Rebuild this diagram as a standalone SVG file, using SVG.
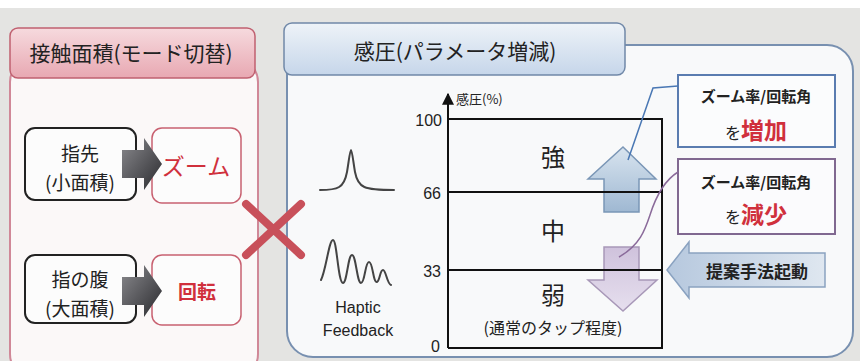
<svg xmlns="http://www.w3.org/2000/svg" width="860" height="361" viewBox="0 0 860 361">
<defs>
<style>
.jp{font-family:"Noto Sans CJK JP","Noto Sans CJK SC",sans-serif;}
.en{font-family:"Liberation Sans",Arial,sans-serif;}
.dark{fill:#222;}
.red{fill:#d0303c;}
.node{fill:#fcfcfc;stroke:#222;stroke-width:2;}
.rbox{fill:#fcfcfc;stroke:#c86070;stroke-width:1.5;}
.grid{stroke:#111;stroke-width:2;fill:none;}
.wave{fill:none;stroke:#444;stroke-width:2;stroke-linecap:round;stroke-linejoin:round;}
</style>
<linearGradient id="gPink" x1="0" y1="0" x2="0" y2="1"><stop offset="0" stop-color="#f6dade"/><stop offset="1" stop-color="#e8a8b2"/></linearGradient>
<linearGradient id="gBlue" x1="0" y1="0" x2="0" y2="1"><stop offset="0" stop-color="#eef3f8"/><stop offset="1" stop-color="#c6d6ea"/></linearGradient>
<linearGradient id="gDark" x1="0" y1="0" x2="1" y2="1"><stop offset="0" stop-color="#8a8a8e"/><stop offset="1" stop-color="#2a2a2e"/></linearGradient>
<linearGradient id="gUp" x1="0" y1="0" x2="0" y2="1"><stop offset="0" stop-color="#d8e4ef"/><stop offset="1" stop-color="#9fb8d2"/></linearGradient>
<linearGradient id="gDown" x1="0" y1="0" x2="0" y2="1"><stop offset="0" stop-color="#cfc2dc"/><stop offset="1" stop-color="#e6dfee"/></linearGradient>
<linearGradient id="gLeft" x1="0" y1="0" x2="1" y2="0"><stop offset="0" stop-color="#b6c8de"/><stop offset="1" stop-color="#dfe7f0"/></linearGradient>
<marker id="ah" viewBox="0 0 10 10" refX="9" refY="5" markerWidth="6" markerHeight="6" orient="auto"><path d="M0,0 L10,5 L0,10 Z" fill="#111"/></marker>
</defs>
<rect x="0" y="0" width="860" height="361" fill="#ffffff"/>
<rect x="0" y="8" width="860" height="353" fill="#e4e4e2"/>

<g id="panel-contact">
<rect x="10" y="58" width="248" height="320" rx="24" fill="#fbf8f8" stroke="#d08898" stroke-width="2"/>
<rect x="10" y="28" width="245" height="50" rx="8" fill="url(#gPink)" stroke="#c06070" stroke-width="1.5"/>
<text class="jp dark" x="131" y="61" font-size="21" text-anchor="middle">接触面積(モード切替)</text>
</g>

<g id="panel-pressure">
<rect x="287" y="45" width="566" height="312" rx="26" fill="#f8f9fa" stroke="#7890b0" stroke-width="2"/>
<rect x="284" y="23" width="341" height="52" rx="8" fill="url(#gBlue)" stroke="#7088a8" stroke-width="1.5"/>
<text class="jp dark" x="455" y="59" font-size="21" text-anchor="middle">感圧(パラメータ増減)</text>
</g>

<g id="node-fingertip">
<rect class="node" x="25" y="128" width="111" height="72" rx="10"/>
<text class="jp dark" x="80" y="161" font-size="19" text-anchor="middle">指先</text>
<text class="jp dark" x="80" y="190" font-size="19" text-anchor="middle">(小面積)</text>
</g>
<g id="node-zoom">
<rect class="rbox" x="152" y="128" width="89" height="75" rx="10"/>
<text class="jp red" x="196" y="175" font-size="23" text-anchor="middle">ズーム</text>
</g>
<g id="node-pad">
<rect class="node" x="25" y="255" width="111" height="68" rx="10"/>
<text class="jp dark" x="80" y="287" font-size="19" text-anchor="middle">指の腹</text>
<text class="jp dark" x="80" y="316" font-size="19" text-anchor="middle">(大面積)</text>
</g>
<g id="node-rotate">
<rect class="rbox" x="152" y="255" width="89" height="70" rx="10"/>
<text class="jp red" x="197" y="299" font-size="19" font-weight="bold" text-anchor="middle">回転</text>
</g>

<g id="node-cross">
<path d="M246,204 L301,255 M301,204 L246,255" stroke="#c8505a" stroke-width="8" stroke-linecap="round"/>
</g>

<g id="node-haptic">
<path class="wave" d="M320,190 C338,190 344,188 347,172 C349,160 350,150 351,150 C352,150 353,160 355,172 C358,188 364,190 394,190"/>
<path class="wave" d="M321,280 C326,270 329,240 333,240 C337,240 338,283 343,283 C347,283 348,255 352,255 C356,255 357,283 361,283 C365,283 365,262 369,262 C373,262 373,283 377,282 C380,280 380,270 383,270 C386,270 387,284 391,285"/>
<text class="en dark" x="358" y="313" font-size="16" text-anchor="middle">Haptic</text>
<text class="en dark" x="358" y="336" font-size="16" text-anchor="middle">Feedback</text>
</g>

<g id="node-up">
<path d="M623,147 L656,179 L639,179 L639,212 L604,212 L604,179 L588,179 Z" fill="url(#gUp)" stroke="#7a96b6" stroke-width="1.5"/>
</g>
<g id="node-down">
<path d="M604,247 L639,247 L639,280 L657,280 L623,311 L588,280 L604,280 Z" fill="url(#gDown)" stroke="#a898b8" stroke-width="1.5"/>
</g>

<g id="node-chart">
<line class="grid" x1="448" y1="348" x2="448" y2="94" marker-end="url(#ah)"/>
<path class="grid" d="M448,119 H662 V348 H448"/>
<line class="grid" x1="448" y1="192" x2="662" y2="192"/>
<line class="grid" x1="448" y1="270" x2="662" y2="270"/>
<text class="jp dark" x="456" y="104" font-size="13">感圧(%)</text>
<text class="en dark" x="442" y="126" font-size="16" text-anchor="end">100</text>
<text class="en dark" x="441" y="199" font-size="16" text-anchor="end">66</text>
<text class="en dark" x="441" y="277" font-size="16" text-anchor="end">33</text>
<text class="en dark" x="440" y="352" font-size="16" text-anchor="end">0</text>
<text class="jp dark" x="553" y="166" font-size="24" text-anchor="middle">強</text>
<text class="jp dark" x="553" y="240" font-size="24" text-anchor="middle">中</text>
<text class="jp dark" x="553" y="304" font-size="24" text-anchor="middle">弱</text>
<text class="jp dark" x="553" y="334" font-size="16" text-anchor="middle">(通常のタップ程度)</text>
</g>

<g id="node-increase">
<rect x="678" y="75" width="157" height="72" fill="#fbfcfd" stroke="#5a7cb0" stroke-width="2"/>
<text class="jp dark" x="756" y="102" font-size="15" font-weight="bold" text-anchor="middle">ズーム率/回転角</text>
<text class="jp" x="756" y="139" text-anchor="middle"><tspan class="dark" font-size="16">を</tspan><tspan class="red" font-size="23" font-weight="bold">増加</tspan></text>
</g>
<g id="node-decrease">
<rect x="678" y="159" width="157" height="75" fill="#fbfbfd" stroke="#806890" stroke-width="2"/>
<text class="jp dark" x="756" y="188" font-size="15" font-weight="bold" text-anchor="middle">ズーム率/回転角</text>
<text class="jp" x="756" y="223" text-anchor="middle"><tspan class="dark" font-size="16">を</tspan><tspan class="red" font-size="23" font-weight="bold">減少</tspan></text>
</g>
<g id="node-start">
<path d="M667,270 L689,242 L689,253 L825,253 L825,287 L689,287 L689,298 Z" fill="url(#gLeft)" stroke="#8aa2c0" stroke-width="1.5"/>
<text class="jp dark" x="757" y="278" font-size="17" font-weight="bold" text-anchor="middle">提案手法起動</text>
</g>

<g id="connectors">
<path d="M628,160 L653,88 L678,86" fill="none" stroke="#4a78b4" stroke-width="1.5"/>
<path d="M619,257 C640,245 645,230 650,215 C656,196 665,180 678,172" fill="none" stroke="#8a6a9a" stroke-width="1.5"/>
<path d="M122,150 H144 V138 L162,164 L144,190 V178 H122 Z" fill="url(#gDark)"/>
<path d="M122,277 H144 V265 L162,291 L144,317 V305 H122 Z" fill="url(#gDark)"/>
</g>
</svg>
